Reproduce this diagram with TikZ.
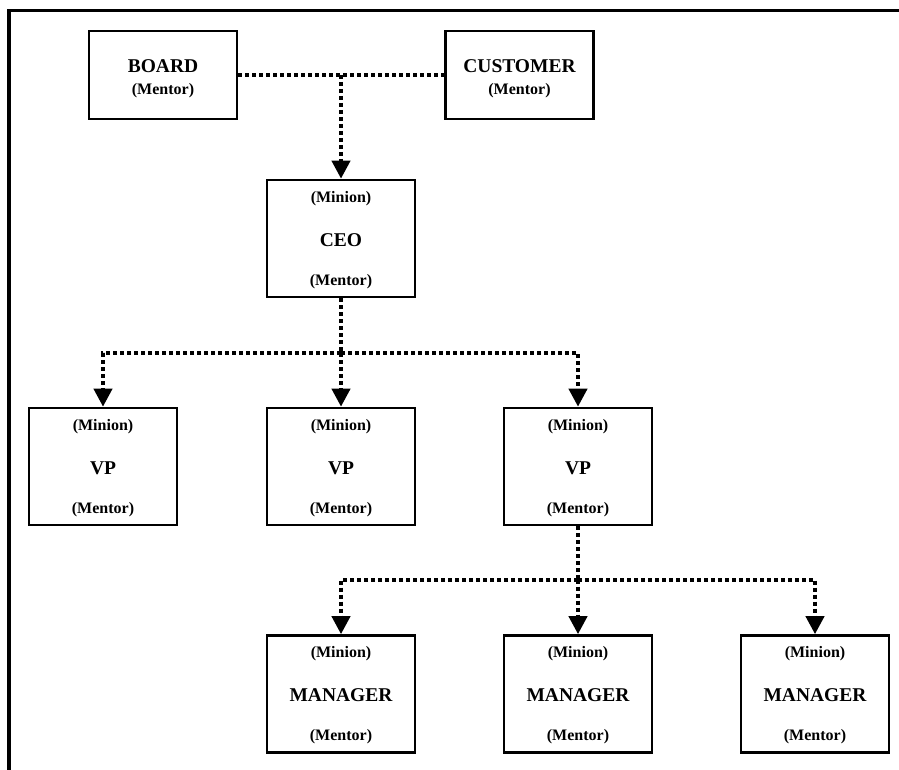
\documentclass[tikz,border=0pt]{standalone}
\usepackage{fontspec}
\setmainfont{Liberation Serif}
\usetikzlibrary{arrows.meta}
\tikzset{
  x=1pt, y=1pt,
  orgbox/.style={draw, line width=2.6pt, inner sep=0pt, minimum width=148pt, minimum height=117pt},
  topbox/.style={orgbox, minimum height=88pt},
  bigtxt/.style={inner sep=0pt, font=\bfseries\fontsize{19.5}{22}\selectfont},
  smtxt/.style={inner sep=0pt, font=\bfseries\fontsize{16}{19}\selectfont},
  conn/.style={line width=4pt, dash pattern=on 4pt off 3pt},
  arr/.style={conn, -{Triangle[width=18pt,length=18pt]}},
  frame/.style={line width=3.6pt, line join=miter}
}
\newcommand\orgnode[4]{%
  \node[orgbox] (#1) at (#2,#3) {};
  \node[smtxt] (#1-mi) at (#2,#3+40) {(Minion)};
  \node[bigtxt] (#1-t) at (#2,#3-1.5) {#4};
  \node[smtxt] (#1-me) at (#2,#3-43) {(Mentor)};
}
\begin{document}
\begin{tikzpicture}
\useasboundingbox (0,0) rectangle (899,-770);
\draw[frame] (9,-772) -- (9,-10.5) -- (901,-10.5);

% top boxes
\node[topbox] (board) at (163,-75) {};
\node[bigtxt] (board-t) at (163,-66) {BOARD};
\node[smtxt] (board-me) at (163,-91) {(Mentor)};
\node[topbox] (customer) at (519.5,-75) {};
\node[bigtxt] (customer-t) at (519.5,-66) {CUSTOMER};
\node[smtxt] (customer-me) at (519.5,-91) {(Mentor)};

\orgnode{ceo}{341}{-238.5}{CEO}
\orgnode{vpa}{103}{-466.5}{VP}
\orgnode{vpb}{341}{-466.5}{VP}
\orgnode{vpc}{578}{-466.5}{VP}
\orgnode{mga}{341}{-694}{MANAGER}
\orgnode{mgb}{578}{-694}{MANAGER}
\orgnode{mgc}{815}{-694}{MANAGER}

\coordinate (j0) at (341,-75);
\coordinate (j1) at (341,-353);
\coordinate (j2) at (578,-579.5);

\draw[conn] (board.east) -- (customer.west);
\draw[arr] (j0) -- (ceo.north);

\draw[conn] (ceo.south) -- (j1);
\draw[arr] (j1) -| (vpa.north);
\draw[arr] (j1) -- (vpb.north);
\draw[arr] (j1) -| (vpc.north);

\draw[conn] (vpc.south) -- (j2);
\draw[arr] (j2) -| (mga.north);
\draw[arr] (j2) -- (mgb.north);
\draw[arr] (j2) -| (mgc.north);
\end{tikzpicture}
\end{document}
